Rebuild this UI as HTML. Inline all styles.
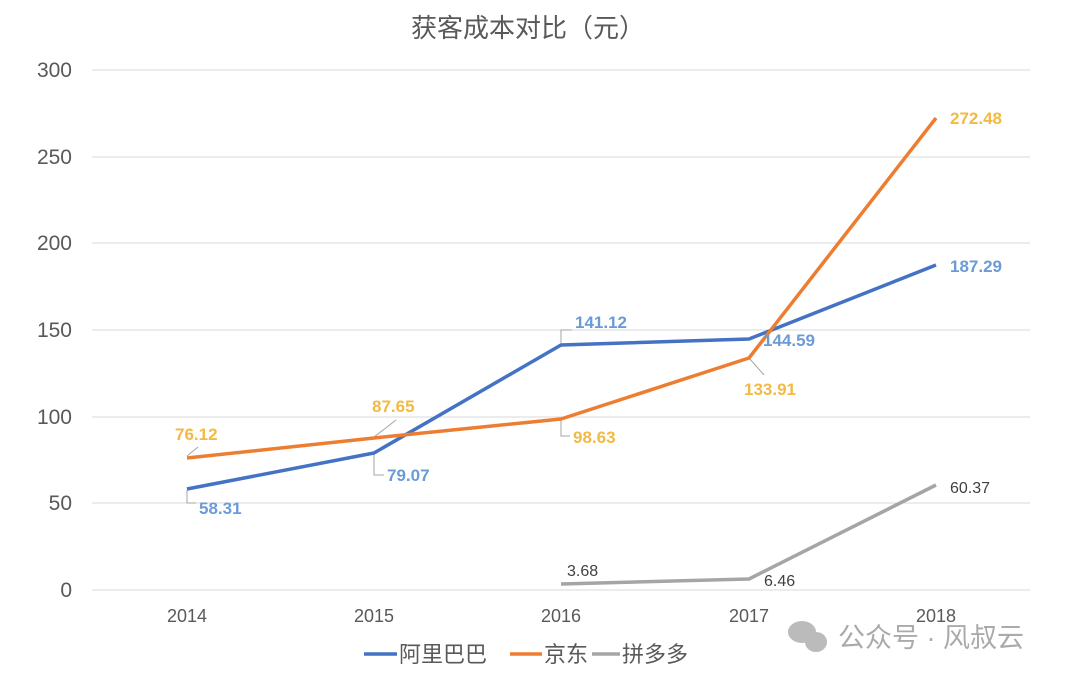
<!DOCTYPE html><html><head><meta charset="utf-8"><style>body{margin:0;background:#fff}svg text{font-family:"Liberation Sans","Noto Sans CJK SC",sans-serif}</style></head><body>
<svg width="1080" height="683" viewBox="0 0 1080 683" xmlns="http://www.w3.org/2000/svg">
<text x="528" y="37" font-size="26" fill="#595959" text-anchor="middle">获客成本对比（元）</text>
<g stroke="#d9d9d9" stroke-width="1">
<line x1="92" y1="70" x2="1030" y2="70"/><line x1="92" y1="157" x2="1030" y2="157"/><line x1="92" y1="243" x2="1030" y2="243"/><line x1="92" y1="330" x2="1030" y2="330"/><line x1="92" y1="417" x2="1030" y2="417"/><line x1="92" y1="503" x2="1030" y2="503"/><line x1="92" y1="590" x2="1030" y2="590"/>
</g>
<g font-size="21" fill="#595959" text-anchor="end">
<text x="72" y="77">300</text><text x="72" y="164">250</text><text x="72" y="250">200</text><text x="72" y="337">150</text><text x="72" y="424">100</text><text x="72" y="510">50</text><text x="72" y="597">0</text>
</g>
<g font-size="18" fill="#595959" text-anchor="middle">
<text x="187" y="622">2014</text><text x="374" y="622">2015</text><text x="561" y="622">2016</text><text x="749" y="622">2017</text><text x="936" y="622">2018</text>
</g>
<g stroke="#a5a5a5" stroke-width="1" fill="none">
<polyline points="187,490 187,503 196,503"/><polyline points="374,454 374,475 384,475"/><polyline points="561,345 561,330 572,330"/>
<line x1="187" y1="456" x2="198" y2="447"/><line x1="374" y1="437" x2="396" y2="420"/><polyline points="561,420 561,436 570,436"/>
<line x1="749" y1="358" x2="764" y2="375"/>
</g>
<g fill="none" stroke-width="3.5" stroke-linejoin="round">
<polyline stroke="#4472C4" points="187,489 374,453 561,345 749,339 936,265"/>
<polyline stroke="#ED7D31" points="187,458 374,438 561,419 749,358 936,118"/>
<polyline stroke="#A5A5A5" points="561,584 749,579 936,485"/>
</g>
<g font-size="17" font-weight="bold" fill="#6B9BD6">
<text x="199" y="514">58.31</text><text x="387" y="481">79.07</text><text x="575" y="328">141.12</text><text x="763" y="346">144.59</text><text x="950" y="272">187.29</text>
</g>
<g font-size="17" font-weight="bold" fill="#F4B942">
<text x="175" y="440">76.12</text><text x="372" y="412">87.65</text><text x="573" y="443">98.63</text><text x="744" y="395">133.91</text><text x="950" y="124">272.48</text>
</g>
<g font-size="16" fill="#404040">
<text x="567" y="576">3.68</text><text x="764" y="586">6.46</text><text x="950" y="493">60.37</text>
</g>
<g font-size="22" fill="#595959">
<line x1="364" y1="654" x2="397" y2="654" stroke="#4472C4" stroke-width="3.5"/><text x="399" y="662">阿里巴巴</text>
<line x1="510" y1="654" x2="542" y2="654" stroke="#ED7D31" stroke-width="3.5"/><text x="544" y="662">京东</text>
<line x1="592" y1="654" x2="620" y2="654" stroke="#A5A5A5" stroke-width="3.5"/><text x="622" y="662">拼多多</text>
</g>
<g fill="#bbb"><ellipse cx="802" cy="632" rx="14" ry="11"/><ellipse cx="816" cy="642" rx="11" ry="10"/></g>
<text x="838" y="647" font-size="27" fill="#aaa">公众号 · 风叔云</text>
</svg>
</body></html>
